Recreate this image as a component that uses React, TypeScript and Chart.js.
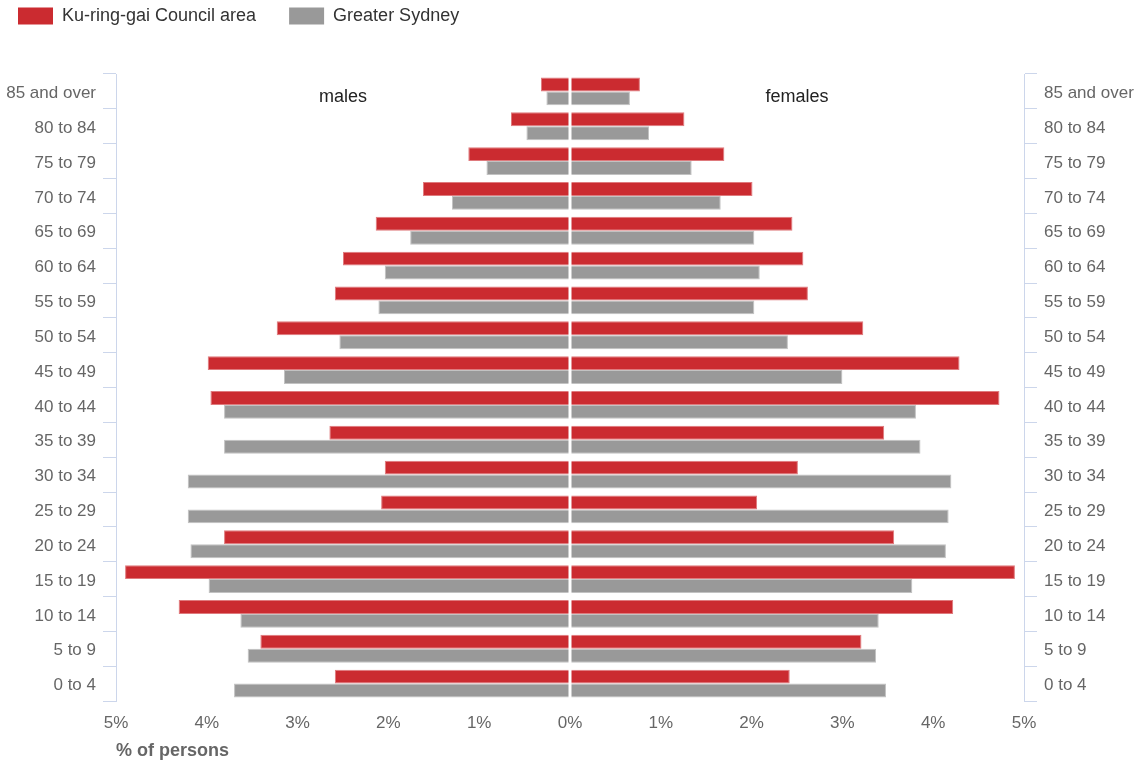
import React, { useEffect, useRef } from "react";
import { Chart, registerables } from "chart.js";

Chart.register(...registerables);

const ageGroups = [
  "85 and over", "80 to 84", "75 to 79", "70 to 74", "65 to 69", "60 to 64",
  "55 to 59", "50 to 54", "45 to 49", "40 to 44", "35 to 39", "30 to 34",
  "25 to 29", "20 to 24", "15 to 19", "10 to 14", "5 to 9", "0 to 4",
];

const kuringgaiMales = [0.32, 0.65, 1.12, 1.62, 2.14, 2.5, 2.59, 3.23, 3.99, 3.96, 2.65, 2.04, 2.08, 3.81, 4.9, 4.31, 3.41, 2.59];
const sydneyMales = [0.26, 0.48, 0.92, 1.3, 1.76, 2.04, 2.11, 2.54, 3.15, 3.81, 3.81, 4.21, 4.21, 4.18, 3.98, 3.63, 3.55, 3.7];
const kuringgaiFemales = [0.77, 1.26, 1.7, 2.01, 2.45, 2.57, 2.62, 3.23, 4.29, 4.73, 3.46, 2.51, 2.06, 3.57, 4.9, 4.22, 3.21, 2.42];
const sydneyFemales = [0.66, 0.87, 1.34, 1.66, 2.03, 2.09, 2.03, 2.4, 3.0, 3.81, 3.86, 4.2, 4.17, 4.14, 3.77, 3.4, 3.37, 3.48];

const seriesNames = ["Ku-ring-gai Council area", "Greater Sydney"];
const sideLabels = ["males", "females"];
const xTickValues = [-5, 5];

const RED = "#cb2b30";
const RED_EDGE = "#df7a7d";
const GREY = "#999999";
const GREY_EDGE = "#c2c2c2";
const AXIS_BLUE = "#ccd6eb";
const FONT = "'Liberation Sans', Arial, Helvetica, sans-serif";

const legendSpacing = {
  id: "legendSpacing",
  beforeInit(chart: any) {
    const legend = chart.legend;
    if (legend && !legend.__patched) {
      const orig = legend.fit;
      legend.fit = function () {
        orig.call(this);
        this.height += 39;
      };
      legend.__patched = true;
    }
  },
};

const sideTitles = {
  id: "sideTitles",
  afterDatasetsDraw(chart: any) {
    const { ctx, scales, chartArea } = chart;
    const x = scales.x;
    const y = scales.y;
    ctx.save();
    ctx.strokeStyle = "#ffffff";
    ctx.lineWidth = 3;
    ctx.beginPath();
    const x0 = x.getPixelForValue(0);
    ctx.moveTo(x0, chartArea.top);
    ctx.lineTo(x0, chartArea.bottom);
    ctx.stroke();
    ctx.font = `18px ${FONT}`;
    ctx.fillStyle = "#222";
    ctx.textAlign = "center";
    ctx.textBaseline = "middle";
    const yy = y.getPixelForValue(0) + 6;
    ctx.fillText(sideLabels[0], x.getPixelForValue(-2.5), yy);
    ctx.fillText(sideLabels[1], x.getPixelForValue(2.5), yy);
    ctx.restore();
  },
};

export default function App() {
  const ref = useRef<HTMLCanvasElement>(null);

  useEffect(() => {
    if (!ref.current) return;
    Chart.defaults.font.family = FONT;
    const common = {
      borderWidth: 1,
      borderSkipped: false,
      categoryPercentage: 0.8,
      barPercentage: 1.0,
    };
    const chart = new Chart(ref.current, {
      type: "bar",
      data: {
        labels: ageGroups,
        datasets: [
          { ...common, label: seriesNames[0], stack: "kr", backgroundColor: RED, borderColor: RED_EDGE, data: kuringgaiMales.map((v) => -v) },
          { ...common, label: seriesNames[1], stack: "gs", backgroundColor: GREY, borderColor: GREY_EDGE, data: sydneyMales.map((v) => -v) },
          { ...common, label: seriesNames[0], stack: "kr", backgroundColor: RED, borderColor: RED_EDGE, data: kuringgaiFemales },
          { ...common, label: seriesNames[1], stack: "gs", backgroundColor: GREY, borderColor: GREY_EDGE, data: sydneyFemales },
        ] as any,
      },
      options: {
        indexAxis: "y",
        animation: false,
        responsive: false,
        layout: { padding: 0 },
        plugins: {
          legend: {
            position: "top",
            align: "start",
            labels: {
              boxWidth: 35,
              boxHeight: 17,
              padding: 33,
              color: "#333",
              font: { size: 18, family: FONT },
              filter: (item: any) => item.datasetIndex < 2,
              generateLabels: (chart: any) =>
                (Chart.defaults.plugins.legend.labels as any).generateLabels(chart).map((it: any) => ({
                  ...it,
                  lineWidth: 0,
                  strokeStyle: it.fillStyle,
                })),
            },
            onClick: () => {},
          },
          tooltip: { enabled: false },
        },
        scales: {
          x: {
            type: "linear",
            min: xTickValues[0],
            max: xTickValues[1],
            stacked: true,
            grid: { display: false },
            border: { display: false },
            ticks: {
              stepSize: 1,
              color: "#666",
              padding: 4,
              font: { size: 17, family: FONT },
              callback: (v: any) => Math.abs(Number(v)) + "%",
            },
            title: {
              display: true,
              text: "% of persons",
              align: "start",
              color: "#666",
              font: { size: 18, weight: "bold", family: FONT },
              padding: { top: 0, bottom: 3 },
            },
            afterFit: (s: any) => {
              s.height = 64;
            },
          },
          y: {
            type: "category",
            position: "left",
            offset: true,
            grid: {
              offset: true,
              drawOnChartArea: false,
              drawTicks: true,
              tickLength: 13,
              color: AXIS_BLUE,
            },
            border: { display: true, color: AXIS_BLUE },
            ticks: { color: "#666", padding: 7, labelOffset: 2, font: { size: 17, family: FONT } },
            afterFit: (s: any) => {
              s.width = 131;
            },
          },
          y2: {
            type: "category",
            position: "right",
            offset: true,
            grid: {
              offset: true,
              drawOnChartArea: false,
              drawTicks: true,
              tickLength: 13,
              color: AXIS_BLUE,
            },
            border: { display: true, color: AXIS_BLUE },
            ticks: { color: "#666", padding: 7, labelOffset: 2, font: { size: 17, family: FONT } },
            afterFit: (s: any) => {
              s.width = 113;
            },
          },
        },
      } as any,
      plugins: [legendSpacing, sideTitles],
    });
    return () => chart.destroy();
  }, []);

  return (
    <div style={{ position: "absolute", left: -15, top: -26, width: 1152, height: 791, background: "#fff" }}>
      <canvas ref={ref} width={1152} height={791} style={{ display: "block" }} />
    </div>
  );
}
